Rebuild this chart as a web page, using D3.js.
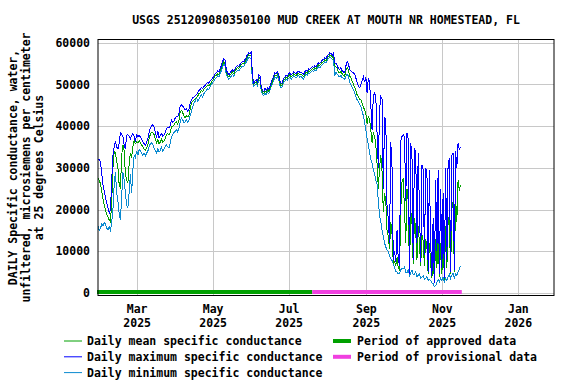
<!DOCTYPE html>
<html lang="en">
<head>
    <meta charset="UTF-8">
    <title>USGS 251209080350100 Mud Creek</title>
    <script src="https://d3js.org/d3.v7.min.js"></script>
    <style>
        body { margin: 0; background: #fff; }
        text { font-family: "DejaVu Sans Mono", monospace; font-weight: bold; font-size: 11.5px; fill: #000; }
    </style>
</head>
<body>
    <div id="chart"></div>

    <script>
        // daily values, first day 2025-01-29
        const firstDay = new Date(2025, 0, 29);

        const dailyMean = [
            // Jan 29 - Feb 28
            27600, 27000, 26200, 24500, 22500, 21000, 20000, 18800, 18200, 17500, 17000, 22000, 30000, 34000, 33500, 31500,
            30000, 26000, 25000, 33000, 35500, 34000, 28500, 27000, 26500, 31000, 33500, 32500, 35000, 36500, 35800,
            // Mar
            36200, 36000, 36500, 36000, 35500, 35000, 34500, 34200, 34800, 35500, 37000, 38000, 38500, 38400, 38000, 37000,
            36000, 36800, 35800, 36200, 36800, 36200, 36400, 37000, 38000, 38200, 38000, 38500, 39800, 40000, 40200,
            // Apr
            40800, 41000, 40500, 41500, 43500, 43800, 43200, 42500, 42000, 42500, 42200, 42500, 44000, 45500, 46000,
            46300, 46500, 46800, 47200, 47800, 48000, 48500, 48300, 48800, 49200, 49500, 49800, 49600, 50000, 50500,
            // May
            51000, 51400, 52000, 52200, 52600, 52400, 53200, 54000, 54800, 55400, 55000, 53000, 52200, 51800, 52200, 52600,
            53000, 52500, 53300, 53700, 54000, 53800, 54300, 54700, 55000, 54900, 55500, 56000, 56700, 57100, 57000,
            // Jun
            57000, 51500, 50000, 50300, 50700, 50200, 51700, 51400, 49000, 48000, 47800, 48400, 48100, 48700, 48300,
            49000, 50000, 50700, 51500, 52200, 52000, 52500, 51900, 50300, 49700, 50000, 51000, 51300, 51700, 51500,
            // Jul
            52000, 52300, 51800, 52100, 52500, 52300, 52000, 52500, 52700, 52300, 52500, 52200, 51900, 52500, 53000, 52700,
            53300, 53100, 53500, 53800, 53600, 54000, 53800, 54300, 54700, 54500, 54900, 55300, 55500, 55900, 55700,
            // Aug
            56300, 56700, 57100, 56900, 56500, 56800, 54500, 54200, 53800, 53000, 52800, 53200, 52500, 52200, 52000, 53500,
            54000, 53500, 52000, 51500, 50800, 50000, 49400, 48500, 47500, 47000, 46500, 46300, 45500, 44500, 44000,
            // Sep
            43000, 40500, 42500, 41500, 39000, 36000, 38500, 37500, 35500, 31000, 25000, 30000, 33000, 29000, 19500,
            24000, 22000, 15000, 13500, 10500, 17000, 14000, 7000, 7500, 6500, 8500, 6000, 5500, 20000, 26500,
            // Oct
            27500, 20000, 12000, 25000, 22000, 5000, 20000, 17000, 7000, 18000, 15000, 8000, 16000, 12000, 6500, 14000,
            12500, 6500, 13000, 11000, 4500, 12000, 7000, 3500, 9000, 2500, 13000, 6000, 15000, 3800, 12000,
            // Nov 1 - 16
            4500, 13000, 3200, 16000, 6000, 17000, 18500, 4500, 20000, 22000, 5000, 23000, 17000, 27000, 24500, 26000
        ];

        const dailyMax = [
            // Jan 29 - Feb 28
            31900, 31900, 31500, 28500, 26000, 24500, 23000, 21500, 20500, 19200, 20000, 27000, 33000, 35000, 36500, 35000,
            34500, 36000, 38400, 38000, 37500, 35500, 34500, 37800, 38000, 37500, 37000, 37800, 38200, 37500, 36500,
            // Mar
            37800, 37500, 37800, 37400, 37000, 36200, 35800, 35500, 36000, 37000, 38500, 39500, 40000, 40300, 39800, 38500,
            37500, 38800, 37200, 37800, 38200, 37600, 37900, 38500, 39500, 39800, 39600, 40200, 41500, 41000, 41200,
            // Apr
            42000, 42300, 42200, 43000, 45000, 45100, 44800, 44300, 43900, 44200, 43600, 44000, 45500, 46300, 46800,
            47000, 47200, 47500, 48000, 48500, 48800, 49200, 49000, 49500, 49800, 50200, 50500, 50200, 50800, 51100,
            // May
            51500, 52000, 52500, 52800, 53200, 53000, 53800, 54500, 55500, 56200, 55800, 53500, 52800, 52300, 52800, 53200,
            53500, 53000, 53800, 54200, 54500, 54300, 54800, 55200, 55500, 55400, 56000, 56500, 57200, 57600, 57400,
            // Jun
            57800, 52000, 50400, 50800, 51200, 50600, 52300, 52000, 49500, 48500, 48300, 49000, 48600, 49200, 48800,
            49500, 50500, 51200, 52000, 52800, 52500, 53000, 52400, 50800, 50200, 50500, 51500, 51800, 52200, 52000,
            // Jul
            52500, 52800, 52300, 52600, 53000, 52800, 52500, 53000, 53200, 52800, 53000, 52700, 52400, 53000, 53500, 53200,
            53800, 53600, 54000, 54300, 54100, 54500, 54300, 54800, 55200, 55000, 55400, 55800, 56000, 56400, 56200,
            // Aug
            56800, 57200, 57600, 57400, 57000, 57500, 55200, 55000, 54500, 53800, 53500, 54000, 53200, 53000, 52800, 54500,
            55400, 55000, 53500, 53200, 53000, 52800, 52500, 51500, 50500, 49500, 49200, 50000, 51000, 51800, 50500,
            // Sep
            51800, 48000, 51500, 50500, 45000, 39000, 47500, 48000, 46800, 38000, 30000, 44000, 47000, 46500, 25000,
            42000, 41500, 20500, 18000, 12000, 36200, 30000, 8000, 10000, 7500, 15000, 8000, 6500, 36500, 37500,
            // Oct
            38000, 37500, 22000, 38400, 37000, 4500, 36000, 33000, 8000, 34800, 33800, 12000, 33600, 20000, 7500, 30700,
            29500, 9000, 29800, 29500, 5000, 29500, 12000, 4000, 18000, 2500, 27100, 10000, 29500, 4500, 25000,
            // Nov 1 - 16
            6000, 24000, 3500, 30000, 8000, 31500, 32000, 5000, 33000, 33600, 5500, 34000, 30000, 36000, 34500, 35000
        ];

        const dailyMin = [
            // Jan 29 - Feb 28
            16000, 15000, 15500, 16500, 16000, 17000, 16500, 15500, 15200, 15800, 15000, 17000, 20000, 26000, 29000, 24000,
            22000, 19000, 17500, 23000, 29000, 27000, 24000, 21000, 20500, 24000, 28500, 24000, 29500, 33000, 32500,
            // Mar
            34000, 33000, 34500, 34000, 33500, 33000, 33600, 32800, 33500, 34000, 35000, 35800, 36000, 35500, 34800, 34000,
            33600, 34500, 33800, 34200, 35000, 34000, 34500, 35200, 35500, 35000, 34800, 36000, 37500, 38000, 38500,
            // Apr
            38800, 39200, 38600, 39500, 41000, 42000, 41500, 40800, 41000, 41500, 41000, 41500, 42500, 43500, 44600,
            45500, 46000, 46800, 46000, 46500, 47000, 47500, 47000, 47800, 48200, 48500, 49000, 48800, 49500, 50000,
            // May
            50500, 50800, 51300, 51600, 52000, 51800, 52500, 53300, 54200, 54800, 54500, 52300, 51700, 51200, 51600, 52000,
            52400, 52000, 52700, 53100, 53400, 53200, 53700, 54100, 54400, 54300, 54900, 55300, 56000, 56500, 56400,
            // Jun
            56000, 50500, 49500, 49800, 50200, 49700, 51000, 50800, 48500, 47500, 47300, 47800, 47600, 48200, 47800,
            48500, 49500, 50200, 51000, 51600, 51500, 52000, 51300, 49800, 49200, 49500, 50500, 50800, 51200, 51000,
            // Jul
            51500, 51800, 51200, 51600, 52000, 51800, 51500, 52000, 52200, 51700, 52000, 51600, 51200, 51900, 52400, 52200,
            52800, 52600, 53000, 53300, 53100, 53500, 53300, 53800, 54200, 54000, 54400, 54800, 55000, 55400, 55200,
            // Aug
            55700, 56200, 56600, 56400, 56000, 56200, 52000, 53000, 52500, 52000, 51800, 52200, 51600, 51500, 51200, 52000,
            52500, 52000, 50500, 50000, 49200, 48700, 48000, 47000, 46300, 45800, 45200, 44600, 43500, 42500, 41000,
            // Sep
            39000, 37000, 35500, 33500, 32000, 31000, 29500, 28500, 27000, 26000, 22000, 18500, 17000, 15000, 13500,
            12000, 11000, 10300, 10000, 9000, 8200, 7800, 7000, 6000, 5200, 5000, 4600, 4800, 5500, 6000,
            // Oct
            5800, 6200, 5000, 4800, 5500, 4200, 4800, 5500, 4300, 4500, 5000, 4000, 4200, 4600, 3600, 3800,
            4200, 3300, 3500, 3900, 3000, 3300, 3000, 2400, 2200, 1500, 1800, 2500, 3200, 2700, 3500,
            // Nov 1 - 16
            3000, 3800, 2600, 3500, 3000, 4000, 4500, 3500, 4200, 4800, 3600, 4600, 4200, 5000, 5800, 6500
        ];

        // approval periods
        const approvedPeriod = [new Date(2025, 0, 29), new Date(2025, 6, 20)];
        const provisionalPeriod = [new Date(2025, 6, 20), new Date(2025, 10, 17)];

        const yTicks = [0, 10000, 20000, 30000, 40000, 50000, 60000];
        const xTicks = [new Date(2025, 2, 1), new Date(2025, 4, 1), new Date(2025, 6, 1),
                        new Date(2025, 8, 1), new Date(2025, 10, 1), new Date(2026, 0, 1)];

        const titleText = "USGS 251209080350100 MUD CREEK AT MOUTH NR HOMESTEAD, FL";
        const yLabelLines = ["DAILY Specific conductance, water,",
                             "unfiltered, microsiemens per centimeter",
                             "at 25 degrees Celsius"];

        const colMean = "#00a000", colMax = "#0000ff", colMin = "#0a8ad0";
        const colApproved = "#00a000", colProvisional = "#f040e0";

        const width = 576, height = 384;
        const plotL = 98, plotR = 554, plotT = 39.5, plotB = 295.5;

        const svg = d3.select('#chart').append('svg')
            .attr('width', width)
            .attr('height', height);

        const x = d3.scaleTime()
            .domain([new Date(2025, 0, 29), new Date(2026, 0, 30)])
            .range([plotL, plotR]);
        const y = d3.scaleLinear()
            .domain([-600, 60770])
            .range([plotB, plotT]);

        // gridlines
        svg.append('g')
            .attr('transform', `translate(0,${plotB})`)
            .call(d3.axisBottom(x).tickValues(xTicks).tickSize(-(plotB - plotT)).tickFormat(''))
            .call(g => g.select('.domain').remove())
            .call(g => g.selectAll('line').attr('stroke', '#c8c8c8').attr('shape-rendering', 'crispEdges'));
        svg.append('g')
            .attr('transform', `translate(${plotL},0)`)
            .call(d3.axisLeft(y).tickValues(yTicks).tickSize(-(plotR - plotL)).tickFormat(''))
            .call(g => g.select('.domain').remove())
            .call(g => g.selectAll('line').attr('stroke', '#c8c8c8').attr('shape-rendering', 'crispEdges'));

        // y tick labels
        svg.append('g')
            .attr('transform', `translate(${plotL},0)`)
            .call(d3.axisLeft(y).tickValues(yTicks).tickSize(0).tickPadding(8).tickFormat(d3.format('d')))
            .call(g => g.select('.domain').remove())
            .call(g => g.selectAll('text').attr('font-family', null).attr('font-size', null));

        // x tick labels, month over year
        const xAxis = svg.append('g')
            .attr('transform', `translate(0,${plotB})`)
            .call(d3.axisBottom(x).tickValues(xTicks).tickSize(0).tickFormat(''))
            .call(g => g.select('.domain').remove());
        xAxis.selectAll('.tick text').remove();
        xAxis.selectAll('.tick').append('text')
            .attr('text-anchor', 'middle')
            .attr('y', 17.5)
            .text(d => d3.timeFormat('%b')(d));
        xAxis.selectAll('.tick').append('text')
            .attr('text-anchor', 'middle')
            .attr('y', 31)
            .text(d => d3.timeFormat('%Y')(d));

        // approval bars
        const barY = y(0) - 1;
        svg.append('line')
            .attr('x1', x(approvedPeriod[0]) - 1).attr('x2', x(approvedPeriod[1]))
            .attr('y1', barY).attr('y2', barY)
            .attr('stroke', colApproved).attr('stroke-width', 4);
        svg.append('line')
            .attr('x1', x(provisionalPeriod[0])).attr('x2', x(provisionalPeriod[1]))
            .attr('y1', barY).attr('y2', barY)
            .attr('stroke', colProvisional).attr('stroke-width', 4);

        // series
        const line = d3.line()
            .x((d, i) => x(d3.timeDay.offset(firstDay, i)))
            .y(d => y(d));

        [[dailyMin, colMin], [dailyMean, colMean], [dailyMax, colMax]].forEach(([vals, col]) => {
            svg.append('path')
                .datum(vals)
                .attr('fill', 'none')
                .attr('stroke', col)
                .attr('stroke-width', 1)
                .attr('shape-rendering', 'crispEdges')
                .attr('d', line);
        });

        // frame
        svg.append('rect')
            .attr('x', plotL).attr('y', plotT)
            .attr('width', plotR - plotL).attr('height', plotB - plotT)
            .attr('fill', 'none').attr('stroke', '#000').attr('stroke-width', 1);

        // title
        svg.append('text')
            .attr('x', (plotL + plotR) / 2)
            .attr('y', 24)
            .attr('text-anchor', 'middle')
            .text(titleText);

        // y axis label
        const yl = svg.append('text')
            .attr('transform', `translate(17,${(plotT + plotB) / 2}) rotate(-90)`)
            .attr('text-anchor', 'middle');
        yLabelLines.forEach((t, i) => {
            yl.append('tspan').attr('x', 0).attr('dy', i === 0 ? 0 : 13).text(t);
        });

        // legend
        const legendLeft = [
            { label: "Daily mean specific conductance", color: colMean },
            { label: "Daily maximum specific conductance", color: colMax },
            { label: "Daily minimum specific conductance", color: colMin }
        ];
        const legendRight = [
            { label: "Period of approved data", color: colApproved },
            { label: "Period of provisional data", color: colProvisional }
        ];
        legendLeft.forEach((d, i) => {
            const ly = 341 + i * 15.8;
            svg.append('line').attr('x1', 64).attr('x2', 82).attr('y1', ly).attr('y2', ly)
                .attr('stroke', d.color).attr('stroke-width', 1);
            svg.append('text').attr('x', 87).attr('y', ly + 4).text(d.label);
        });
        legendRight.forEach((d, i) => {
            const ly = 341 + i * 15.8;
            svg.append('line').attr('x1', 333).attr('x2', 351).attr('y1', ly).attr('y2', ly)
                .attr('stroke', d.color).attr('stroke-width', 4);
            svg.append('text').attr('x', 357).attr('y', ly + 4).text(d.label);
        });
    </script>
</body>
</html>
